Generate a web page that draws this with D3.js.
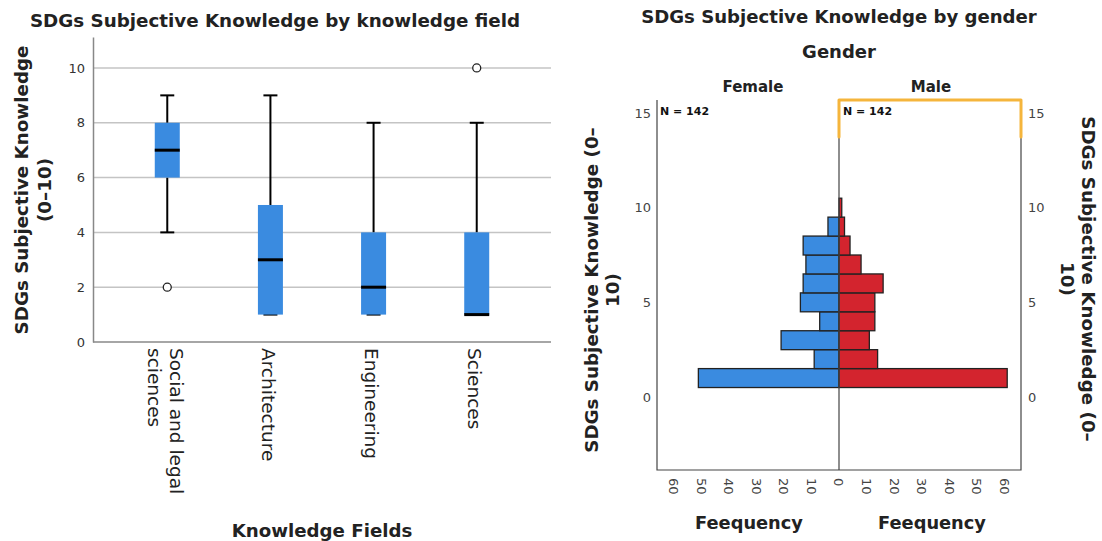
<!DOCTYPE html>
<html>
<head>
<meta charset="utf-8">
<script src="https://cdn.jsdelivr.net/npm/d3@7"></script>
<style>
  body { margin: 0; background: #fff; }
  svg { display: block; font-family: "DejaVu Sans", sans-serif; }
</style>
</head>
<body>
<div id="chart"></div>
<script>
// box plot data (by knowledge field)
const fields = ["Social and legal\nsciences", "Architecture", "Engineering", "Sciences"];
const whiskerLow = [4, 1, 1, 1];
const q1 = [6, 1, 1, 1];
const median = [7, 3, 2, 1];
const q3 = [8, 5, 4, 4];
const whiskerHigh = [9, 9, 8, 8];
const outliers = [[2], [], [], [10]];
const boxTicks = [0, 2, 4, 6, 8, 10];

// population pyramid data (by gender)
const scores = [1, 2, 3, 4, 5, 6, 7, 8, 9, 10];
const femaleFreq = [51, 9, 21, 7, 14, 13, 12, 13, 4, 0];
const maleFreq = [61, 14, 11, 13, 13, 16, 8, 4, 2, 1];
const freqTicks = [0, 10, 20, 30, 40, 50, 60];
const scoreTicks = [0, 5, 10, 15];
const nFemale = 142, nMale = 142;

const W = 1102, H = 541;
const svg = d3.select("#chart").append("svg").attr("width", W).attr("height", H);

const blue = "#3a8be0", red = "#d3242e", txt = "#222";

// ---------------- left: box plot ----------------
const bx0 = 93, bx1 = 551, by0 = 342;
const by = d3.scaleLinear().domain([0, 11.13]).range([by0, 37]);
const bxs = d3.scalePoint().domain(fields).range([bx0, bx1]).padding(0.72);

const left = svg.append("g");

left.append("text")
  .attr("x", 275).attr("y", 27)
  .attr("text-anchor", "middle")
  .attr("font-size", 18.3).attr("font-weight", "bold").attr("fill", txt)
  .text("SDGs Subjective Knowledge by knowledge field");

// gridlines
left.selectAll(".grid").data(boxTicks.filter(d => d > 0)).join("line")
  .attr("x1", bx0).attr("x2", bx1)
  .attr("y1", d => by(d)).attr("y2", d => by(d))
  .attr("stroke", "#c4c4c4").attr("stroke-width", 1.5);

// axes
const yAx = left.append("g").attr("transform", `translate(${bx0},0)`)
  .call(d3.axisLeft(by).tickValues(boxTicks).tickSize(0).tickPadding(8));
yAx.select(".domain").attr("stroke", "#888").attr("stroke-width", 1.5);
yAx.selectAll("text").attr("font-size", 13).attr("fill", "#333")
  .attr("font-family", "DejaVu Sans, sans-serif");

left.append("line")
  .attr("x1", bx0).attr("x2", bx1).attr("y1", by0).attr("y2", by0)
  .attr("stroke", "#888").attr("stroke-width", 1.5);

// boxes
const boxW = 25, capW = 14;
fields.forEach((f, i) => {
  const cx = bxs(f);
  const g = left.append("g");
  g.append("line").attr("x1", cx).attr("x2", cx)
    .attr("y1", by(whiskerHigh[i])).attr("y2", by(q3[i]))
    .attr("stroke", "#000").attr("stroke-width", 2);
  g.append("line").attr("x1", cx).attr("x2", cx)
    .attr("y1", by(whiskerLow[i])).attr("y2", by(q1[i]))
    .attr("stroke", "#000").attr("stroke-width", 2);
  [whiskerHigh[i], whiskerLow[i]].forEach(v => {
    g.append("line").attr("x1", cx - capW / 2).attr("x2", cx + capW / 2)
      .attr("y1", by(v)).attr("y2", by(v))
      .attr("stroke", "#000").attr("stroke-width", 2);
  });
  g.append("rect")
    .attr("x", cx - boxW / 2).attr("width", boxW)
    .attr("y", by(q3[i])).attr("height", by(q1[i]) - by(q3[i]))
    .attr("fill", blue);
  g.append("line").attr("x1", cx - boxW / 2).attr("x2", cx + boxW / 2)
    .attr("y1", by(median[i])).attr("y2", by(median[i]))
    .attr("stroke", "#000").attr("stroke-width", 3);
  outliers[i].forEach(v => {
    g.append("circle").attr("cx", cx).attr("cy", by(v)).attr("r", 4)
      .attr("fill", "#fff").attr("stroke", "#222").attr("stroke-width", 1.3);
  });
  // rotated category label
  const lines = f.split("\n");
  const lab = g.append("text")
    .attr("transform", `translate(${cx - 2},348) rotate(90)`)
    .attr("font-size", 18.5).attr("fill", txt);
  lines.forEach((l, k) => {
    lab.append("tspan").attr("x", 0)
      .attr("y", (k - (lines.length - 1) / 2) * 22)
      .attr("dy", "0.35em")
      .text(l);
  });
});

left.append("text")
  .attr("x", (bx0 + bx1) / 2).attr("y", 537)
  .attr("text-anchor", "middle")
  .attr("font-size", 18.2).attr("font-weight", "bold").attr("fill", txt)
  .text("Knowledge Fields");

const ylab = left.append("text")
  .attr("transform", "translate(33,190) rotate(-90)")
  .attr("text-anchor", "middle")
  .attr("font-size", 18.3).attr("font-weight", "bold").attr("fill", txt);
ylab.append("tspan").attr("x", 0).attr("y", -11.5).attr("dy", "0.35em").text("SDGs Subjective Knowledge");
ylab.append("tspan").attr("x", 0).attr("y", 11.5).attr("dy", "0.35em").text("(0\u201310)");

// ---------------- right: pyramid ----------------
const cxm = 839, px0 = 657, px1 = 1021, py0 = 100, py1 = 470;
const hy = d3.scaleLinear().domain([0, 15]).range([397, 113]);
const fx = d3.scaleLinear().domain([0, 66]).range([cxm, px0]);
const mx = d3.scaleLinear().domain([0, 66]).range([cxm, px1]);

const right = svg.append("g");

right.append("text")
  .attr("x", cxm).attr("y", 23).attr("text-anchor", "middle")
  .attr("font-size", 18.1).attr("font-weight", "bold").attr("fill", txt)
  .text("SDGs Subjective Knowledge by gender");
right.append("text")
  .attr("x", cxm).attr("y", 58).attr("text-anchor", "middle")
  .attr("font-size", 18).attr("font-weight", "bold").attr("fill", txt)
  .text("Gender");
right.append("text")
  .attr("x", (px0 + cxm) / 2 + 5).attr("y", 92).attr("text-anchor", "middle")
  .attr("font-size", 15).attr("font-weight", "bold").attr("fill", txt)
  .text("Female");
right.append("text")
  .attr("x", (cxm + px1) / 2 + 1).attr("y", 92).attr("text-anchor", "middle")
  .attr("font-size", 15).attr("font-weight", "bold").attr("fill", txt)
  .text("Male");

// bars
const bin = 1;
right.selectAll(".fbar").data(scores.map((s, i) => ({ s, v: femaleFreq[i] })).filter(d => d.v > 0))
  .join("rect")
  .attr("x", d => fx(d.v)).attr("width", d => cxm - fx(d.v))
  .attr("y", d => hy(d.s + bin / 2)).attr("height", d => hy(d.s - bin / 2) - hy(d.s + bin / 2))
  .attr("fill", blue).attr("stroke", "#222").attr("stroke-width", 1.3);
right.selectAll(".mbar").data(scores.map((s, i) => ({ s, v: maleFreq[i] })).filter(d => d.v > 0))
  .join("rect")
  .attr("x", cxm).attr("width", d => mx(d.v) - cxm)
  .attr("y", d => hy(d.s + bin / 2)).attr("height", d => hy(d.s - bin / 2) - hy(d.s + bin / 2))
  .attr("fill", red).attr("stroke", "#222").attr("stroke-width", 1.3);

// frame
right.append("path")
  .attr("d", `M${px0},${py0}V${py1}H${px1}V137M${cxm},${py0}V${py1}`)
  .attr("fill", "none").attr("stroke", "#444").attr("stroke-width", 1.2);
right.append("path")
  .attr("d", `M${cxm},137V${py0}H${px1}V137`)
  .attr("fill", "none").attr("stroke", "#f5b53c").attr("stroke-width", 3)
  .attr("stroke-linejoin", "round").attr("stroke-linecap", "round");

// N labels
right.append("text").attr("x", px0 + 3).attr("y", 115)
  .attr("font-size", 11).attr("font-weight", "bold").attr("fill", "#111")
  .text(`N = ${nFemale}`);
right.append("text").attr("x", cxm + 4).attr("y", 115)
  .attr("font-size", 11).attr("font-weight", "bold").attr("fill", "#111")
  .text(`N = ${nMale}`);

// y tick labels both sides
right.selectAll(".ytl").data(scoreTicks).join("text")
  .attr("x", 651).attr("y", d => hy(d)).attr("dy", "0.35em")
  .attr("text-anchor", "end").attr("font-size", 13).attr("fill", "#444")
  .text(d => d);
right.selectAll(".ytr").data(scoreTicks).join("text")
  .attr("x", 1028).attr("y", d => hy(d)).attr("dy", "0.35em")
  .attr("text-anchor", "start").attr("font-size", 13).attr("fill", "#444")
  .text(d => d);

// x tick labels (rotated)
const xticks = freqTicks.map(v => ({ x: fx(v), v }))
  .concat(freqTicks.filter(v => v > 0).map(v => ({ x: mx(v), v })));
right.selectAll(".xt").data(xticks).join("text")
  .attr("transform", d => `translate(${d.x},478) rotate(90)`)
  .attr("dy", "0.35em")
  .attr("font-size", 13).attr("fill", "#444")
  .text(d => d.v);

right.append("text")
  .attr("x", (px0 + cxm) / 2 + 1).attr("y", 529).attr("text-anchor", "middle")
  .attr("font-size", 17.8).attr("font-weight", "bold").attr("fill", txt)
  .text("Feequency");
right.append("text")
  .attr("x", (cxm + px1) / 2 + 2).attr("y", 529).attr("text-anchor", "middle")
  .attr("font-size", 17.8).attr("font-weight", "bold").attr("fill", txt)
  .text("Feequency");

// side axis titles
const ryl = right.append("text")
  .attr("transform", "translate(602,290) rotate(-90)")
  .attr("text-anchor", "middle")
  .attr("font-size", 18.3).attr("font-weight", "bold").attr("fill", txt);
ryl.append("tspan").attr("x", 0).attr("y", -10.5).attr("dy", "0.35em").text("SDGs Subjective Knowledge (0\u2013");
ryl.append("tspan").attr("x", 0).attr("y", 10.5).attr("dy", "0.35em").text("10)");

const ryr = right.append("text")
  .attr("transform", "translate(1078,279) rotate(90)")
  .attr("text-anchor", "middle")
  .attr("font-size", 18.3).attr("font-weight", "bold").attr("fill", txt);
ryr.append("tspan").attr("x", 0).attr("y", -10.5).attr("dy", "0.35em").text("SDGs Subjective Knowledge (0\u2013");
ryr.append("tspan").attr("x", 0).attr("y", 10.5).attr("dy", "0.35em").text("10)");
</script>
</body>
</html>
